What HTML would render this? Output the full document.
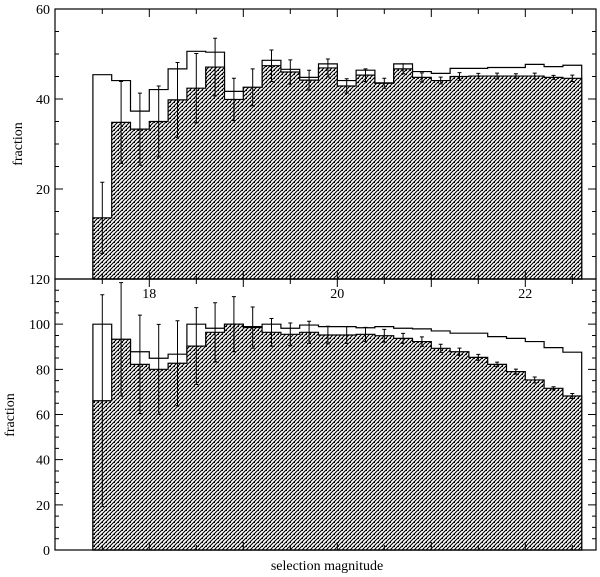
<!DOCTYPE html>
<html><head><meta charset="utf-8"><style>
html,body{margin:0;padding:0;background:#fff;}
svg{display:block;font-family:"Liberation Serif",serif;}
</style></head><body>
<svg id="chart" width="600" height="577" viewBox="0 0 600 577" xmlns="http://www.w3.org/2000/svg">
<defs>
<pattern id="hatch" patternUnits="userSpaceOnUse" width="4" height="4">
<rect width="4" height="4" fill="#fff"/>
<path d="M-1,1 l2,-2 M0,4 l4,-4 M3,5 l2,-2" stroke="#000" stroke-width="1.1"/>
<rect x="2" y="2" width="1" height="1" fill="#000"/>
</pattern>
</defs>
<g id="plot"></g>
<text x="327" y="570" text-anchor="middle" font-size="14">selection magnitude</text>
<text transform="translate(22,144) rotate(-90)" text-anchor="middle" font-size="14">fraction</text>
<text transform="translate(14,415) rotate(-90)" text-anchor="middle" font-size="14">fraction</text>
</svg>
<script>
const binStart = 17.4;
const binWidth = 0.2;
const topOutline = [45.4,44.1,37.3,42.1,46.7,50.6,50.4,41.7,42.6,48.6,46.6,44.8,47.8,44.1,46.4,43.6,47.8,46.1,45.7,46.8,46.8,47.0,47.0,47.7,47.2,47.5];
const topHatched = [13.6,34.8,33.3,35.0,39.8,42.4,47.1,39.9,42.6,47.4,46.0,44.2,46.9,42.9,45.3,43.5,46.7,44.8,44.1,45.0,45.1,45.1,45.1,45.1,44.8,44.6];
const topErr = [7.9,9.1,8.0,7.9,8.3,7.7,6.4,4.7,4.1,3.5,2.7,2.2,2.0,1.6,1.4,1.1,1.1,1.0,0.75,0.85,0.6,0.65,0.5,0.65,0.45,0.7];
const botOutline = [100.0,93.3,87.8,84.9,86.7,100.0,98.2,100.0,98.9,100.0,98.2,99.6,98.9,98.9,98.4,98.9,98.2,97.9,97.0,96.0,96.0,94.5,93.7,92.3,89.6,87.6];
const botHatched = [66.1,93.3,82.2,80.0,82.7,90.3,96.4,100.0,98.5,96.4,95.5,96.4,95.2,95.2,95.5,94.9,93.7,92.3,89.3,87.8,85.3,82.2,79.0,75.3,71.6,68.2];
const botErr = [46.9,25.1,21.8,19.9,18.8,17.0,13.1,12.2,9.1,6.1,5.0,4.9,3.9,3.7,3.1,2.8,2.2,2.1,1.8,1.6,1.3,1.0,1.1,1.3,0.7,1.1];
const topTickLabels = [20,40,60];
const botTickLabels = [0,20,40,60,80,100,120];
const xTickLabels = [18,20,22];

const NS = "http://www.w3.org/2000/svg";
const g = document.getElementById('plot');
const X0 = 55, X1 = 596;
const xs = m => 149.3 + (m - 18) * 94;
function mk(tag, attrs, parent) {
  const e = document.createElementNS(NS, tag);
  for (const k in attrs) e.setAttribute(k, attrs[k]);
  (parent || g).appendChild(e);
  return e;
}
function stepPath(vals, ys) {
  let d = 'M' + xs(binStart) + ',' + ys(0);
  vals.forEach((v, i) => {
    const a = xs(binStart + i * binWidth), b = xs(binStart + (i + 1) * binWidth);
    d += ' L' + a + ',' + ys(v) + ' L' + b + ',' + ys(v);
  });
  d += ' L' + xs(binStart + vals.length * binWidth) + ',' + ys(0) + ' Z';
  return d;
}
function panel(name, y0, y1, max, outline, hatched, err, labels, showX) {
  const ys = v => y1 - v / max * (y1 - y0);
  const pg = mk('g', {});
  
  
  const o = mk('path', {d: stepPath(outline, ys), fill: '#fff', stroke: '#000', 'stroke-width': 1.2}, pg);
  
  
  const h = mk('path', {d: stepPath(hatched, ys), fill: 'url(#hatch)', stroke: '#000', 'stroke-width': 1.2}, pg);
  
  
  err.forEach((e, i) => {
    const cx = xs(binStart + (i + 0.5) * binWidth);
    const v = hatched[i];
    const eb = mk('path', {d: 'M' + cx + ',' + ys(v - e) + ' V' + ys(v + e) + ' M' + (cx - 2) + ',' + ys(v - e) + ' h4 M' + (cx - 2) + ',' + ys(v + e) + ' h4', stroke: '#000', 'stroke-width': 1, fill: 'none'}, pg);
    
    
  });
  for (let v = 0; v <= max; v += 5) {
    const y = ys(v), len = (v % 20 === 0) ? 8 : 4;
    mk('path', {d: 'M' + X0 + ',' + y + ' h' + len + ' M' + X1 + ',' + y + ' h' + (-len), stroke: '#000', 'stroke-width': 1}, pg);
  }
  labels.forEach(v => {
    const t = mk('text', {x: 50, y: ys(v) + 5, 'text-anchor': 'end', 'font-size': 14}, pg);
    t.textContent = v;
    
    
  });
  for (let m = 17.5; m <= 22.76; m += 0.5) {
    const x = xs(m), len = (Math.abs(m - Math.round(m)) < 0.01) ? 8 : 5;
    mk('path', {d: 'M' + x + ',' + y0 + ' v' + len + ' M' + x + ',' + y1 + ' v' + (-len), stroke: '#000', 'stroke-width': 1}, pg);
  }
  if (showX) {
    xTickLabels.forEach(m => {
      const t = mk('text', {x: xs(m), y: y0 + 19, 'text-anchor': 'middle', 'font-size': 14}, pg);
      t.textContent = m;
      
      
    });
  }
  const f = mk('rect', {x: X0, y: y0, width: X1 - X0, height: y1 - y0, fill: 'none', stroke: '#000', 'stroke-width': 1.2}, pg);
  
  
}
panel('top', 9, 279, 60, topOutline, topHatched, topErr, topTickLabels, false);
panel('bottom', 279, 550, 120, botOutline, botHatched, botErr, botTickLabels, true);
</script>
</body></html>
